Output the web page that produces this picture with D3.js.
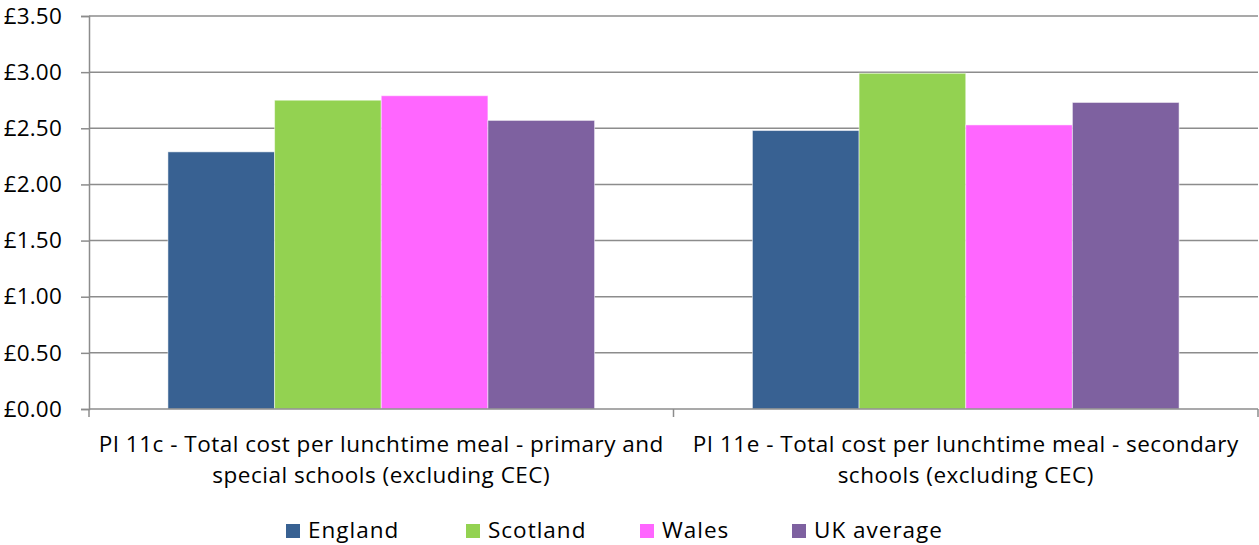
<!DOCTYPE html>
<html>
<head>
<meta charset="utf-8">
<script src="https://cdn.jsdelivr.net/npm/d3@7"></script>
<style>
  body { margin: 0; background: #fff; }
  text { font-family: "Open Sans", sans-serif; fill: #000; font-size: 22.5px; letter-spacing: 0.5px; }
</style>
</head>
<body>
<svg id="chart" width="1259" height="545"></svg>
<script>
var categories = [
    ["PI 11c - Total cost per lunchtime meal - primary and", "special schools (excluding CEC)"],
    ["PI 11e - Total cost per lunchtime meal - secondary", "schools (excluding CEC)"]
];
var seriesNames = ["England", "Scotland", "Wales", "UK average"];
var seriesColors = ["#386192", "#93D251", "#FF66FF", "#7E61A0"];
var england = [2.29, 2.48];
var scotland = [2.75, 2.99];
var wales = [2.79, 2.53];
var ukAverage = [2.57, 2.73];
var yTicks = [0, 0.5, 1, 1.5, 2, 2.5, 3, 3.5];

var values = [england, scotland, wales, ukAverage];

var svg = d3.select("#chart");
var plotLeft = 89, plotRight = 1258, plotTop = 16, plotBottom = 409;

var x0 = d3.scaleBand()
    .domain(d3.range(categories.length))
    .range([plotLeft, plotRight])
    .paddingInner(0)
    .paddingOuter(0);

var x1 = d3.scaleBand()
    .domain(d3.range(seriesNames.length))
    .range([0, x0.bandwidth()])
    .paddingOuter(0.74)
    .paddingInner(0);

var y = d3.scaleLinear().domain([0, 3.5]).range([plotBottom, plotTop]);

// gridlines
svg.append("g")
    .selectAll("line")
    .data(yTicks.filter(function(d) { return d > 0; }))
    .enter().append("line")
    .attr("x1", plotLeft).attr("x2", plotRight)
    .attr("y1", function(d) { return y(d); })
    .attr("y2", function(d) { return y(d); })
    .attr("stroke", "#8c8c8c")
    .attr("stroke-width", 1.5);

// bars
var groups = svg.append("g")
    .selectAll("g")
    .data(values)
    .enter().append("g")
    .attr("fill", function(d, i) { return seriesColors[i]; });

groups.selectAll("rect")
    .data(function(d, i) { return d.map(function(v, c) { return {v: v, c: c, s: i}; }); })
    .enter().append("rect")
    .attr("x", function(d) { return x0(d.c) + x1(d.s); })
    .attr("width", x1.bandwidth())
    .attr("y", function(d) { return y(d.v); })
    .attr("height", function(d) { return y(0) - y(d.v); })
    .attr("stroke", "#ffffff")
    .attr("stroke-opacity", 0.5)
    .attr("stroke-width", 1);

// y axis
var yAxis = svg.append("g")
    .attr("transform", "translate(" + plotLeft + ",0)")
    .call(d3.axisLeft(y).tickValues(yTicks).tickSize(8).tickPadding(19)
        .tickFormat(function(d) { return "£" + d3.format(".2f")(d); }));
yAxis.select(".domain").attr("stroke", "#8c8c8c").attr("stroke-width", 1.5);
yAxis.selectAll(".tick line").attr("stroke", "#8c8c8c").attr("stroke-width", 1.5);
yAxis.selectAll("text").attr("font-size", null).attr("font-family", null).attr("fill", null)
    .style("letter-spacing", "0.2px");

// x axis
var xAxis = svg.append("g")
    .attr("transform", "translate(0," + plotBottom + ")");
xAxis.append("line")
    .attr("x1", plotLeft).attr("x2", plotRight)
    .attr("stroke", "#8c8c8c").attr("stroke-width", 1.5);
xAxis.selectAll(".xt")
    .data(d3.range(categories.length + 1))
    .enter().append("line")
    .attr("x1", function(d) { return d < categories.length ? x0(d) : plotRight; })
    .attr("x2", function(d) { return d < categories.length ? x0(d) : plotRight; })
    .attr("y1", 0).attr("y2", 8)
    .attr("stroke", "#8c8c8c").attr("stroke-width", 1.5);

var labels = xAxis.selectAll(".xl")
    .data(categories)
    .enter().append("text")
    .attr("text-anchor", "middle")
    .attr("transform", function(d, i) { return "translate(" + (x0(i) + x0.bandwidth() / 2) + ",0)"; });
labels.selectAll("tspan")
    .data(function(d) { return d; })
    .enter().append("tspan")
    .attr("x", 0)
    .attr("y", function(d, i) { return 43 + i * 31; })
    .text(function(d) { return d; });

// legend
var legendX = [286, 466, 640, 792];
var legend = svg.append("g")
    .selectAll("g")
    .data(seriesNames)
    .enter().append("g")
    .attr("transform", function(d, i) { return "translate(" + legendX[i] + ",522)"; });
legend.append("rect")
    .attr("y", 2)
    .attr("width", 14).attr("height", 14)
    .attr("fill", function(d, i) { return seriesColors[i]; });
legend.append("text")
    .attr("x", 22).attr("y", 16)
    .style("letter-spacing", "1px")
    .text(function(d) { return d; });
</script>
</body>
</html>
